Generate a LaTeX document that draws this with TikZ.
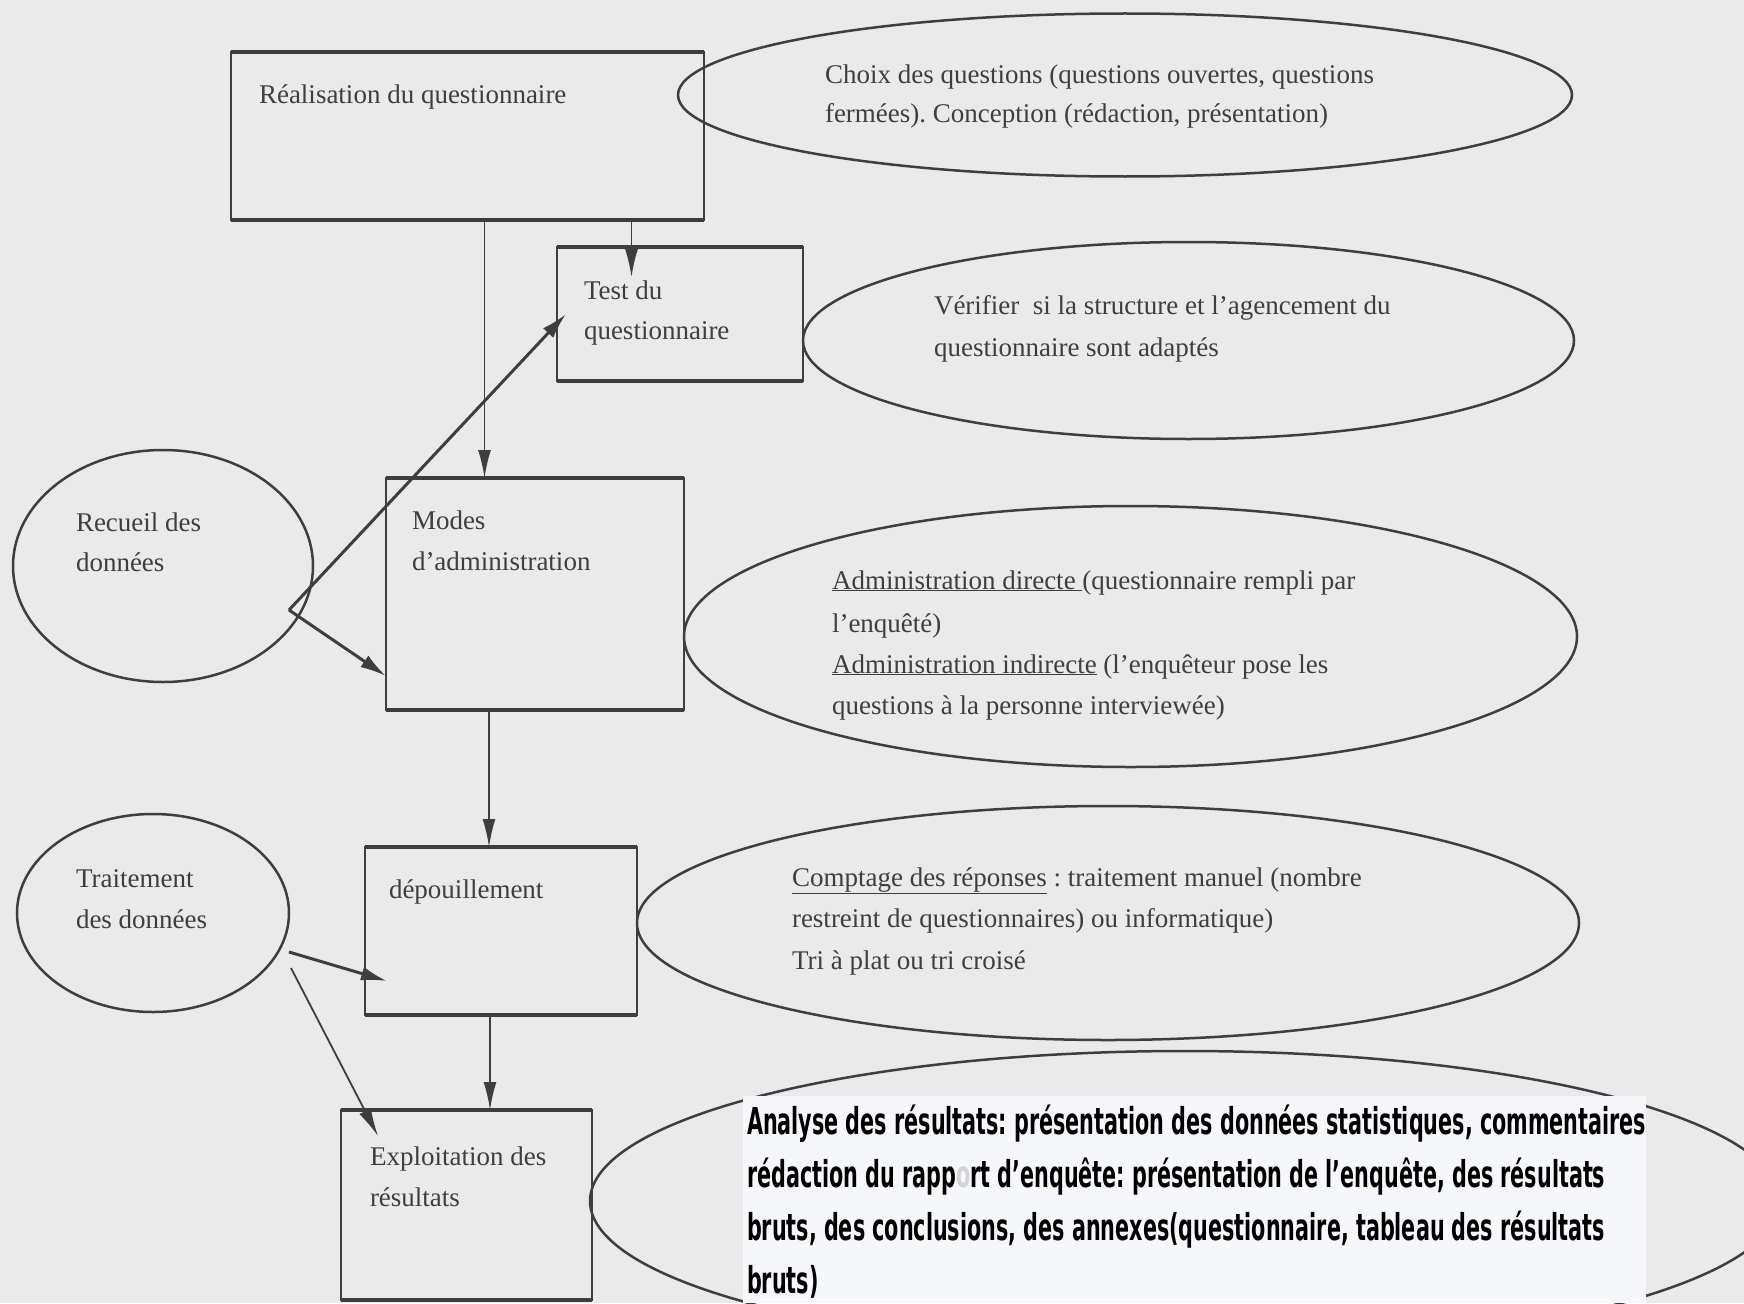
\documentclass[tikz,border=0pt]{standalone}
\usepackage{fontspec}
\setmainfont{Liberation Serif}
\newfontfamily\boldcond[FakeStretch=0.56]{DejaVu Sans}
\usetikzlibrary{arrows.meta,shapes.geometric,calc}
\definecolor{bg}{RGB}{234,234,234}
\definecolor{ink}{RGB}{62,62,62}
\definecolor{paper}{RGB}{246,247,250}
\frenchspacing
\begin{document}
\begin{tikzpicture}[x=1pt,y=-1pt,
  box/.style={draw=ink,line width=2pt,rectangle,inner sep=0pt,outer sep=0pt},
  oval/.style={draw=ink,line width=2.5pt,ellipse,inner sep=0pt,outer sep=0pt},
  txt/.style={anchor=base west,inner sep=0pt,outer sep=0pt,text=ink,font=\fontsize{27}{38}\selectfont},
  btxt/.style={anchor=base west,inner sep=0pt,outer sep=0pt,text=black,font=\boldcond\bfseries\fontsize{37}{53}\selectfont},
  arr/.style={draw=ink,line width=1.8pt,-{Latex[length=28pt,width=13pt]}},
  barr/.style={draw=ink,line width=3pt,-{Latex[length=26pt,width=14pt]}},
  edge/.style={draw=ink,line width=4pt}]
\fill[bg] (0,0) rectangle (1744,1303);
\useasboundingbox (0,0) rectangle (1744,1303);
\begin{scope}
\clip (0,0) rectangle (1744,1303);
% boxes
\node[box,minimum width=473pt,minimum height=168pt] (box1) at (467.5,136) {};
\node[box,minimum width=246pt,minimum height=134pt] (box2) at (680,314) {};
\node[box,minimum width=298pt,minimum height=232pt] (box3) at (535,594) {};
\node[box,minimum width=272pt,minimum height=168pt] (box4) at (501,931) {};
\node[box,minimum width=251pt,minimum height=190pt] (box5) at (466.5,1205) {};
\foreach \b in {box1,box2,box3,box4,box5}{
  \draw[edge] (\b.north west) -- (\b.north east);
  \draw[edge] (\b.south west) -- (\b.south east);
}
% ellipses
\node[oval,minimum width=894pt,minimum height=163pt] (e1) at (1125,95) {};
\node[oval,minimum width=771pt,minimum height=197pt] (e2) at (1188.5,340.5) {};
\node[oval,minimum width=300pt,minimum height=232pt] (rec) at (163,566) {};
\node[oval,minimum width=893pt,minimum height=261pt] (e3) at (1130.5,636.5) {};
\node[oval,minimum width=272pt,minimum height=198pt] (trt) at (153,913) {};
\node[oval,minimum width=942pt,minimum height=234pt] (e4) at (1108,923) {};
\node[oval,minimum width=1190pt,minimum height=300pt] (e5) at (1185,1201) {};
% white panel
\fill[paper] (743,1096) rectangle (1646,1303);
% texts
\node[txt] (r1) at (259,104) {Réalisation du questionnaire};
\node[txt] (e1a) at (825,84) {Choix des questions (questions ouvertes, questions};
\node[txt] (e1b) at (825,122) {fermées). Conception (rédaction, présentation)};
\node[txt] (b2a) at (584,299) {Test du};
\node[txt] (b2b) at (584,339) {questionnaire};
\node[txt] (e2a) at (934,314) {Vérifier\ \ si la structure et l’agencement du};
\node[txt] (e2b) at (934,356) {questionnaire sont adaptés};
\node[txt] (rca) at (76,531) {Recueil des};
\node[txt] (rcb) at (76,571) {données};
\node[txt] (b3a) at (412,529) {Modes};
\node[txt] (b3b) at (412,570) {d’administration};
\node[txt] (e3a) at (832,589) {\underline{Administration directe }(questionnaire rempli par};
\node[txt] (e3b) at (832,632) {l’enquêté)};
\node[txt] (e3c) at (832,673) {\underline{Administration indirecte} (l’enquêteur pose les};
\node[txt] (e3d) at (832,714) {questions à la personne interviewée)};
\node[txt] (tra) at (76,887) {Traitement};
\node[txt] (trb) at (76,928) {des données};
\node[txt] (b4a) at (389,898) {dépouillement};
\node[txt] (e4a) at (792,886) {\underline{Comptage des réponses} : traitement manuel (nombre};
\node[txt] (e4b) at (792,927) {restreint de questionnaires) ou informatique)};
\node[txt] (e4c) at (792,969) {Tri à plat ou tri croisé};
\node[txt] (b5a) at (370,1165) {Exploitation des};
\node[txt] (b5b) at (370,1206) {résultats};
\node[btxt] (f1) at (747,1134) {Analyse des résultats: présentation des données statistiques, commentaires};
\node[btxt] (f2) at (747,1187) {rédaction du rapp{\color{paper!70!gray}o}rt d’enquête: présentation de l’enquête, des résultats};
\node[btxt] (f3) at (747,1240) {bruts, des conclusions, des annexes(questionnaire, tableau des résultats};
\node[btxt] (f4) at (747,1293) {bruts)};
% connectors
\draw[arr] ([xshift=17pt]box1.south) -- ([xshift=17pt]box1.south |- box3.north);
\draw[arr] ([xshift=164pt]box1.south) -- ([xshift=164pt,yshift=-30pt]box1.south |- box2.north);
\draw[barr] ([xshift=-24pt,yshift=-44pt]rec.east) -- ([xshift=9pt]box2.west);
\draw[barr] ([xshift=-24pt,yshift=-44pt]rec.east) -- ([yshift=-82pt]box3.west);
\draw[arr] ([xshift=-46pt]box3.south) -- ([xshift=-46pt]box3.south |- box4.north);
\draw[arr] ([xshift=-11pt]box4.south) -- ([xshift=-11pt]box4.south |- box5.north);
\draw[barr] ([yshift=-39pt]trt.east) -- ([xshift=22pt,yshift=-50pt]box4.west);
\draw[arr] ([xshift=2pt,yshift=-55pt]trt.east) -- ([xshift=37pt,yshift=-26pt]box5.north west);
\end{scope}
\end{tikzpicture}
\end{document}
